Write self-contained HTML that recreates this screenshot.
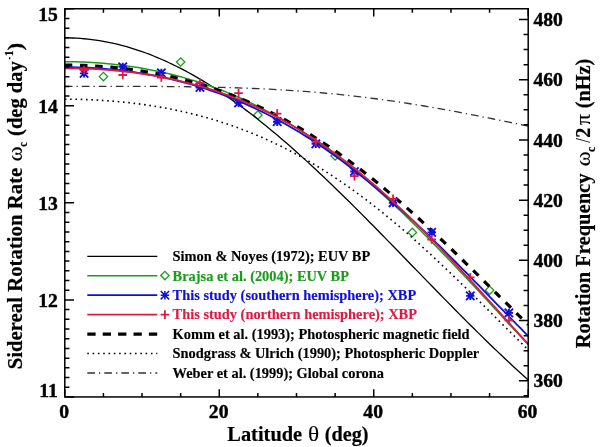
<!DOCTYPE html>
<html><head><meta charset="utf-8"><style>
html,body{margin:0;padding:0;background:#fff;width:600px;height:447px;overflow:hidden}
svg{display:block;will-change:transform}
</style></head><body>
<svg width="600" height="447" viewBox="0 0 600 447">
<clipPath id="c"><rect x="64.8" y="8.75" width="463.40000000000003" height="388.2"/></clipPath>
<g clip-path="url(#c)"><path d="M99.22,76.60 L103.42,72.40 L107.62,76.60 L103.42,80.80 Z" stroke="#1c9c1c" stroke-width="1.3" fill="none"/><path d="M176.45,62.00 L180.65,57.80 L184.85,62.00 L180.65,66.20 Z" stroke="#1c9c1c" stroke-width="1.3" fill="none"/><path d="M253.68,115.00 L257.88,110.80 L262.08,115.00 L257.88,119.20 Z" stroke="#1c9c1c" stroke-width="1.3" fill="none"/><path d="M330.92,156.00 L335.12,151.80 L339.32,156.00 L335.12,160.20 Z" stroke="#1c9c1c" stroke-width="1.3" fill="none"/><path d="M408.15,232.40 L412.35,228.20 L416.55,232.40 L412.35,236.60 Z" stroke="#1c9c1c" stroke-width="1.3" fill="none"/><path d="M485.38,290.30 L489.58,286.10 L493.78,290.30 L489.58,294.50 Z" stroke="#1c9c1c" stroke-width="1.3" fill="none"/><path d="M64.80,86.29 L68.66,86.29 L72.52,86.29 L76.38,86.29 L80.25,86.29 L84.11,86.29 L87.97,86.30 L91.83,86.30 L95.69,86.30 L99.56,86.30 L103.42,86.30 L107.28,86.31 L111.14,86.31 L115.00,86.31 L118.86,86.32 L122.72,86.32 L126.59,86.33 L130.45,86.34 L134.31,86.35 L138.17,86.36 L142.03,86.38 L145.90,86.39 L149.76,86.41 L153.62,86.43 L157.48,86.45 L161.34,86.48 L165.20,86.51 L169.06,86.54 L172.93,86.57 L176.79,86.61 L180.65,86.65 L184.51,86.70 L188.37,86.75 L192.24,86.80 L196.10,86.86 L199.96,86.93 L203.82,86.99 L207.68,87.07 L211.54,87.15 L215.41,87.24 L219.27,87.33 L223.13,87.43 L226.99,87.53 L230.85,87.64 L234.71,87.76 L238.57,87.89 L242.44,88.03 L246.30,88.17 L250.16,88.32 L254.02,88.48 L257.88,88.64 L261.75,88.82 L265.61,89.00 L269.47,89.20 L273.33,89.40 L277.19,89.61 L281.05,89.84 L284.92,90.07 L288.78,90.31 L292.64,90.57 L296.50,90.83 L300.36,91.10 L304.22,91.39 L308.08,91.69 L311.95,91.99 L315.81,92.31 L319.67,92.64 L323.53,92.98 L327.39,93.34 L331.26,93.70 L335.12,94.08 L338.98,94.47 L342.84,94.87 L346.70,95.28 L350.56,95.71 L354.43,96.14 L358.29,96.59 L362.15,97.05 L366.01,97.52 L369.87,98.01 L373.73,98.50 L377.60,99.01 L381.46,99.53 L385.32,100.06 L389.18,100.60 L393.04,101.16 L396.90,101.73 L400.77,102.30 L404.63,102.89 L408.49,103.49 L412.35,104.10 L416.21,104.72 L420.07,105.35 L423.94,106.00 L427.80,106.65 L431.66,107.31 L435.52,107.98 L439.38,108.66 L443.24,109.35 L447.11,110.05 L450.97,110.75 L454.83,111.47 L458.69,112.19 L462.55,112.92 L466.41,113.66 L470.28,114.40 L474.14,115.15 L478.00,115.91 L481.86,116.67 L485.72,117.44 L489.58,118.21 L493.45,118.99 L497.31,119.77 L501.17,120.55 L505.03,121.34 L508.89,122.13 L512.75,122.92 L516.62,123.72 L520.48,124.51 L524.34,125.31 L528.20,126.11" stroke="#333" stroke-width="1.3" fill="none" stroke-dasharray="7.7 4 1.3 4"/><path d="M64.80,99.20 L68.66,99.21 L72.52,99.25 L76.38,99.31 L80.25,99.40 L84.11,99.51 L87.97,99.65 L91.83,99.81 L95.69,100.00 L99.56,100.22 L103.42,100.46 L107.28,100.72 L111.14,101.02 L115.00,101.33 L118.86,101.68 L122.72,102.05 L126.59,102.46 L130.45,102.88 L134.31,103.34 L138.17,103.83 L142.03,104.34 L145.90,104.89 L149.76,105.46 L153.62,106.06 L157.48,106.70 L161.34,107.37 L165.20,108.06 L169.06,108.79 L172.93,109.56 L176.79,110.35 L180.65,111.18 L184.51,112.05 L188.37,112.95 L192.24,113.88 L196.10,114.85 L199.96,115.86 L203.82,116.90 L207.68,117.98 L211.54,119.10 L215.41,120.26 L219.27,121.45 L223.13,122.69 L226.99,123.97 L230.85,125.28 L234.71,126.64 L238.57,128.04 L242.44,129.48 L246.30,130.97 L250.16,132.50 L254.02,134.07 L257.88,135.68 L261.75,137.34 L265.61,139.05 L269.47,140.79 L273.33,142.59 L277.19,144.43 L281.05,146.32 L284.92,148.25 L288.78,150.23 L292.64,152.25 L296.50,154.32 L300.36,156.44 L304.22,158.61 L308.08,160.83 L311.95,163.09 L315.81,165.40 L319.67,167.75 L323.53,170.16 L327.39,172.61 L331.26,175.11 L335.12,177.65 L338.98,180.25 L342.84,182.89 L346.70,185.57 L350.56,188.30 L354.43,191.08 L358.29,193.90 L362.15,196.77 L366.01,199.69 L369.87,202.64 L373.73,205.64 L377.60,208.69 L381.46,211.77 L385.32,214.90 L389.18,218.07 L393.04,221.27 L396.90,224.52 L400.77,227.81 L404.63,231.13 L408.49,234.49 L412.35,237.89 L416.21,241.32 L420.07,244.78 L423.94,248.28 L427.80,251.80 L431.66,255.36 L435.52,258.95 L439.38,262.56 L443.24,266.20 L447.11,269.87 L450.97,273.56 L454.83,277.27 L458.69,281.00 L462.55,284.75 L466.41,288.52 L470.28,292.31 L474.14,296.11 L478.00,299.92 L481.86,303.75 L485.72,307.58 L489.58,311.42 L493.45,315.27 L497.31,319.12 L501.17,322.98 L505.03,326.83 L508.89,330.69 L512.75,334.54 L516.62,338.39 L520.48,342.23 L524.34,346.06 L528.20,349.88" stroke="#000" stroke-width="1.6" fill="none" stroke-dasharray="1.6 3.7"/><path d="M64.80,37.87 L68.66,37.90 L72.52,38.00 L76.38,38.18 L80.25,38.42 L84.11,38.73 L87.97,39.11 L91.83,39.56 L95.69,40.08 L99.56,40.67 L103.42,41.33 L107.28,42.06 L111.14,42.85 L115.00,43.71 L118.86,44.64 L122.72,45.64 L126.59,46.70 L130.45,47.83 L134.31,49.03 L138.17,50.29 L142.03,51.62 L145.90,53.01 L149.76,54.47 L153.62,56.00 L157.48,57.58 L161.34,59.23 L165.20,60.95 L169.06,62.72 L172.93,64.56 L176.79,66.46 L180.65,68.42 L184.51,70.44 L188.37,72.52 L192.24,74.66 L196.10,76.86 L199.96,79.11 L203.82,81.42 L207.68,83.79 L211.54,86.21 L215.41,88.69 L219.27,91.22 L223.13,93.81 L226.99,96.45 L230.85,99.13 L234.71,101.87 L238.57,104.66 L242.44,107.50 L246.30,110.39 L250.16,113.33 L254.02,116.31 L257.88,119.33 L261.75,122.40 L265.61,125.52 L269.47,128.68 L273.33,131.88 L277.19,135.12 L281.05,138.40 L284.92,141.72 L288.78,145.08 L292.64,148.47 L296.50,151.90 L300.36,155.36 L304.22,158.86 L308.08,162.39 L311.95,165.95 L315.81,169.55 L319.67,173.17 L323.53,176.82 L327.39,180.50 L331.26,184.20 L335.12,187.93 L338.98,191.68 L342.84,195.46 L346.70,199.25 L350.56,203.07 L354.43,206.90 L358.29,210.76 L362.15,214.63 L366.01,218.51 L369.87,222.42 L373.73,226.33 L377.60,230.25 L381.46,234.19 L385.32,238.14 L389.18,242.09 L393.04,246.06 L396.90,250.02 L400.77,254.00 L404.63,257.97 L408.49,261.95 L412.35,265.93 L416.21,269.91 L420.07,273.89 L423.94,277.87 L427.80,281.84 L431.66,285.81 L435.52,289.77 L439.38,293.73 L443.24,297.67 L447.11,301.61 L450.97,305.54 L454.83,309.45 L458.69,313.35 L462.55,317.24 L466.41,321.11 L470.28,324.96 L474.14,328.80 L478.00,332.61 L481.86,336.41 L485.72,340.18 L489.58,343.94 L493.45,347.66 L497.31,351.37 L501.17,355.05 L505.03,358.70 L508.89,362.32 L512.75,365.91 L516.62,369.47 L520.48,373.00 L524.34,376.50 L528.20,379.97" stroke="#000" stroke-width="1.3" fill="none"/><path d="M64.80,61.71 L68.66,61.73 L72.52,61.77 L76.38,61.85 L80.25,61.97 L84.11,62.11 L87.97,62.29 L91.83,62.50 L95.69,62.74 L99.56,63.01 L103.42,63.32 L107.28,63.66 L111.14,64.03 L115.00,64.44 L118.86,64.88 L122.72,65.35 L126.59,65.86 L130.45,66.41 L134.31,66.98 L138.17,67.60 L142.03,68.25 L145.90,68.93 L149.76,69.65 L153.62,70.41 L157.48,71.21 L161.34,72.04 L165.20,72.91 L169.06,73.82 L172.93,74.77 L176.79,75.75 L180.65,76.78 L184.51,77.85 L188.37,78.96 L192.24,80.10 L196.10,81.29 L199.96,82.53 L203.82,83.80 L207.68,85.12 L211.54,86.48 L215.41,87.88 L219.27,89.33 L223.13,90.82 L226.99,92.36 L230.85,93.95 L234.71,95.57 L238.57,97.25 L242.44,98.97 L246.30,100.74 L250.16,102.56 L254.02,104.42 L257.88,106.34 L261.75,108.30 L265.61,110.31 L269.47,112.36 L273.33,114.47 L277.19,116.63 L281.05,118.83 L284.92,121.09 L288.78,123.39 L292.64,125.75 L296.50,128.15 L300.36,130.61 L304.22,133.11 L308.08,135.66 L311.95,138.27 L315.81,140.92 L319.67,143.63 L323.53,146.38 L327.39,149.18 L331.26,152.04 L335.12,154.94 L338.98,157.88 L342.84,160.88 L346.70,163.93 L350.56,167.02 L354.43,170.16 L358.29,173.35 L362.15,176.58 L366.01,179.86 L369.87,183.18 L373.73,186.54 L377.60,189.95 L381.46,193.41 L385.32,196.90 L389.18,200.43 L393.04,204.01 L396.90,207.62 L400.77,211.28 L404.63,214.97 L408.49,218.69 L412.35,222.45 L416.21,226.25 L420.07,230.07 L423.94,233.93 L427.80,237.82 L431.66,241.74 L435.52,245.69 L439.38,249.66 L443.24,253.66 L447.11,257.68 L450.97,261.72 L454.83,265.78 L458.69,269.86 L462.55,273.96 L466.41,278.08 L470.28,282.21 L474.14,286.35 L478.00,290.50 L481.86,294.66 L485.72,298.83 L489.58,303.00 L493.45,307.18 L497.31,311.36 L501.17,315.54 L505.03,319.71 L508.89,323.88 L512.75,328.05 L516.62,332.21 L520.48,336.35 L524.34,340.49 L528.20,344.61" stroke="#1c9c1c" stroke-width="1.5" fill="none"/><path d="M64.80,65.04 L68.66,65.05 L72.52,65.10 L76.38,65.17 L80.25,65.28 L84.11,65.41 L87.97,65.57 L91.83,65.77 L95.69,65.99 L99.56,66.24 L103.42,66.53 L107.28,66.84 L111.14,67.18 L115.00,67.56 L118.86,67.97 L122.72,68.40 L126.59,68.87 L130.45,69.38 L134.31,69.91 L138.17,70.48 L142.03,71.08 L145.90,71.71 L149.76,72.37 L153.62,73.07 L157.48,73.81 L161.34,74.58 L165.20,75.38 L169.06,76.22 L172.93,77.09 L176.79,78.00 L180.65,78.95 L184.51,79.94 L188.37,80.96 L192.24,82.02 L196.10,83.11 L199.96,84.25 L203.82,85.42 L207.68,86.64 L211.54,87.89 L215.41,89.19 L219.27,90.52 L223.13,91.90 L226.99,93.31 L230.85,94.77 L234.71,96.27 L238.57,97.81 L242.44,99.40 L246.30,101.03 L250.16,102.70 L254.02,104.42 L257.88,106.18 L261.75,107.98 L265.61,109.83 L269.47,111.72 L273.33,113.66 L277.19,115.64 L281.05,117.67 L284.92,119.75 L288.78,121.87 L292.64,124.03 L296.50,126.24 L300.36,128.50 L304.22,130.80 L308.08,133.15 L311.95,135.54 L315.81,137.98 L319.67,140.46 L323.53,142.99 L327.39,145.57 L331.26,148.19 L335.12,150.85 L338.98,153.56 L342.84,156.31 L346.70,159.11 L350.56,161.95 L354.43,164.83 L358.29,167.75 L362.15,170.72 L366.01,173.73 L369.87,176.77 L373.73,179.86 L377.60,182.99 L381.46,186.16 L385.32,189.36 L389.18,192.61 L393.04,195.89 L396.90,199.20 L400.77,202.55 L404.63,205.93 L408.49,209.35 L412.35,212.80 L416.21,216.28 L420.07,219.79 L423.94,223.32 L427.80,226.89 L431.66,230.48 L435.52,234.10 L439.38,237.74 L443.24,241.40 L447.11,245.09 L450.97,248.79 L454.83,252.51 L458.69,256.25 L462.55,260.01 L466.41,263.78 L470.28,267.56 L474.14,271.36 L478.00,275.16 L481.86,278.97 L485.72,282.79 L489.58,286.61 L493.45,290.43 L497.31,294.26 L501.17,298.09 L505.03,301.91 L508.89,305.73 L512.75,309.54 L516.62,313.35 L520.48,317.15 L524.34,320.94 L528.20,324.71" stroke="#000" stroke-width="3.2" fill="none" stroke-dasharray="7.5 7.7"/><path d="M64.80,67.17 L68.66,67.19 L72.52,67.24 L76.38,67.31 L80.25,67.42 L84.11,67.56 L87.97,67.72 L91.83,67.92 L95.69,68.15 L99.56,68.42 L103.42,68.71 L107.28,69.03 L111.14,69.39 L115.00,69.78 L118.86,70.20 L122.72,70.65 L126.59,71.14 L130.45,71.66 L134.31,72.21 L138.17,72.79 L142.03,73.41 L145.90,74.07 L149.76,74.75 L153.62,75.48 L157.48,76.24 L161.34,77.03 L165.20,77.86 L169.06,78.73 L172.93,79.63 L176.79,80.57 L180.65,81.55 L184.51,82.57 L188.37,83.62 L192.24,84.72 L196.10,85.85 L199.96,87.03 L203.82,88.24 L207.68,89.50 L211.54,90.79 L215.41,92.13 L219.27,93.51 L223.13,94.93 L226.99,96.40 L230.85,97.91 L234.71,99.46 L238.57,101.06 L242.44,102.70 L246.30,104.38 L250.16,106.11 L254.02,107.89 L257.88,109.71 L261.75,111.57 L265.61,113.49 L269.47,115.44 L273.33,117.45 L277.19,119.50 L281.05,121.60 L284.92,123.75 L288.78,125.94 L292.64,128.18 L296.50,130.47 L300.36,132.80 L304.22,135.19 L308.08,137.62 L311.95,140.09 L315.81,142.62 L319.67,145.19 L323.53,147.81 L327.39,150.47 L331.26,153.18 L335.12,155.94 L338.98,158.75 L342.84,161.60 L346.70,164.49 L350.56,167.43 L354.43,170.42 L358.29,173.44 L362.15,176.52 L366.01,179.63 L369.87,182.79 L373.73,185.99 L377.60,189.23 L381.46,192.51 L385.32,195.83 L389.18,199.19 L393.04,202.58 L396.90,206.01 L400.77,209.48 L404.63,212.99 L408.49,216.53 L412.35,220.10 L416.21,223.70 L420.07,227.34 L423.94,231.01 L427.80,234.70 L431.66,238.42 L435.52,242.17 L439.38,245.94 L443.24,249.73 L447.11,253.55 L450.97,257.39 L454.83,261.25 L458.69,265.12 L462.55,269.02 L466.41,272.92 L470.28,276.84 L474.14,280.77 L478.00,284.72 L481.86,288.66 L485.72,292.62 L489.58,296.58 L493.45,300.55 L497.31,304.51 L501.17,308.48 L505.03,312.44 L508.89,316.40 L512.75,320.35 L516.62,324.30 L520.48,328.23 L524.34,332.16 L528.20,336.07" stroke="#1010d8" stroke-width="1.8" fill="none"/><path d="M79.91,73.40 H88.31 M84.11,69.20 V77.60 M79.91,69.20 L88.31,77.60 M88.31,69.20 L79.91,77.60" stroke="#1010d8" stroke-width="1.9" fill="none"/><path d="M118.52,66.90 H126.92 M122.72,62.70 V71.10 M118.52,62.70 L126.92,71.10 M126.92,62.70 L118.52,71.10" stroke="#1010d8" stroke-width="1.9" fill="none"/><path d="M157.14,72.90 H165.54 M161.34,68.70 V77.10 M157.14,68.70 L165.54,77.10 M165.54,68.70 L157.14,77.10" stroke="#1010d8" stroke-width="1.9" fill="none"/><path d="M195.76,87.50 H204.16 M199.96,83.30 V91.70 M195.76,83.30 L204.16,91.70 M204.16,83.30 L195.76,91.70" stroke="#1010d8" stroke-width="1.9" fill="none"/><path d="M234.38,102.90 H242.77 M238.57,98.70 V107.10 M234.38,98.70 L242.77,107.10 M242.77,98.70 L234.38,107.10" stroke="#1010d8" stroke-width="1.9" fill="none"/><path d="M272.99,121.70 H281.39 M277.19,117.50 V125.90 M272.99,117.50 L281.39,125.90 M281.39,117.50 L272.99,125.90" stroke="#1010d8" stroke-width="1.9" fill="none"/><path d="M311.61,143.90 H320.01 M315.81,139.70 V148.10 M311.61,139.70 L320.01,148.10 M320.01,139.70 L311.61,148.10" stroke="#1010d8" stroke-width="1.9" fill="none"/><path d="M350.23,171.50 H358.62 M354.43,167.30 V175.70 M350.23,167.30 L358.62,175.70 M358.62,167.30 L350.23,175.70" stroke="#1010d8" stroke-width="1.9" fill="none"/><path d="M388.84,202.80 H397.24 M393.04,198.60 V207.00 M388.84,198.60 L397.24,207.00 M397.24,198.60 L388.84,207.00" stroke="#1010d8" stroke-width="1.9" fill="none"/><path d="M427.46,232.40 H435.86 M431.66,228.20 V236.60 M427.46,228.20 L435.86,236.60 M435.86,228.20 L427.46,236.60" stroke="#1010d8" stroke-width="1.9" fill="none"/><path d="M466.08,295.90 H474.48 M470.28,291.70 V300.10 M466.08,291.70 L474.48,300.10 M474.48,291.70 L466.08,300.10" stroke="#1010d8" stroke-width="1.9" fill="none"/><path d="M504.69,312.90 H513.09 M508.89,308.70 V317.10 M504.69,308.70 L513.09,317.10 M513.09,308.70 L504.69,317.10" stroke="#1010d8" stroke-width="1.9" fill="none"/><path d="M64.80,68.27 L68.66,68.28 L72.52,68.32 L76.38,68.39 L80.25,68.48 L84.11,68.60 L87.97,68.75 L91.83,68.93 L95.69,69.13 L99.56,69.36 L103.42,69.61 L107.28,69.90 L111.14,70.21 L115.00,70.55 L118.86,70.92 L122.72,71.32 L126.59,71.75 L130.45,72.21 L134.31,72.70 L138.17,73.22 L142.03,73.77 L145.90,74.36 L149.76,74.97 L153.62,75.62 L157.48,76.30 L161.34,77.02 L165.20,77.77 L169.06,78.56 L172.93,79.38 L176.79,80.23 L180.65,81.13 L184.51,82.06 L188.37,83.03 L192.24,84.04 L196.10,85.09 L199.96,86.17 L203.82,87.30 L207.68,88.47 L211.54,89.68 L215.41,90.93 L219.27,92.23 L223.13,93.57 L226.99,94.95 L230.85,96.38 L234.71,97.85 L238.57,99.38 L242.44,100.94 L246.30,102.56 L250.16,104.22 L254.02,105.93 L257.88,107.68 L261.75,109.49 L265.61,111.35 L269.47,113.25 L273.33,115.21 L277.19,117.22 L281.05,119.28 L284.92,121.39 L288.78,123.55 L292.64,125.77 L296.50,128.03 L300.36,130.35 L304.22,132.72 L308.08,135.15 L311.95,137.63 L315.81,140.16 L319.67,142.74 L323.53,145.38 L327.39,148.07 L331.26,150.81 L335.12,153.60 L338.98,156.45 L342.84,159.35 L346.70,162.30 L350.56,165.31 L354.43,168.36 L358.29,171.47 L362.15,174.62 L366.01,177.83 L369.87,181.09 L373.73,184.39 L377.60,187.75 L381.46,191.15 L385.32,194.59 L389.18,198.09 L393.04,201.63 L396.90,205.21 L400.77,208.84 L404.63,212.51 L408.49,216.22 L412.35,219.97 L416.21,223.76 L420.07,227.59 L423.94,231.45 L427.80,235.35 L431.66,239.29 L435.52,243.25 L439.38,247.25 L443.24,251.28 L447.11,255.34 L450.97,259.42 L454.83,263.53 L458.69,267.67 L462.55,271.82 L466.41,276.00 L470.28,280.19 L474.14,284.41 L478.00,288.63 L481.86,292.87 L485.72,297.12 L489.58,301.39 L493.45,305.65 L497.31,309.93 L501.17,314.21 L505.03,318.48 L508.89,322.76 L512.75,327.04 L516.62,331.31 L520.48,335.58 L524.34,339.83 L528.20,344.08" stroke="#dc1a46" stroke-width="1.8" fill="none"/><path d="M79.81,70.00 H88.41 M84.11,65.70 V74.30" stroke="#dc1a46" stroke-width="1.8" fill="none"/><path d="M118.42,75.00 H127.02 M122.72,70.70 V79.30" stroke="#dc1a46" stroke-width="1.8" fill="none"/><path d="M157.04,77.50 H165.64 M161.34,73.20 V81.80" stroke="#dc1a46" stroke-width="1.8" fill="none"/><path d="M195.66,83.00 H204.26 M199.96,78.70 V87.30" stroke="#dc1a46" stroke-width="1.8" fill="none"/><path d="M234.27,93.10 H242.88 M238.57,88.80 V97.40" stroke="#dc1a46" stroke-width="1.8" fill="none"/><path d="M272.89,113.60 H281.49 M277.19,109.30 V117.90" stroke="#dc1a46" stroke-width="1.8" fill="none"/><path d="M311.51,141.80 H320.11 M315.81,137.50 V146.10" stroke="#dc1a46" stroke-width="1.8" fill="none"/><path d="M350.12,176.20 H358.73 M354.43,171.90 V180.50" stroke="#dc1a46" stroke-width="1.8" fill="none"/><path d="M388.74,198.80 H397.34 M393.04,194.50 V203.10" stroke="#dc1a46" stroke-width="1.8" fill="none"/><path d="M427.36,239.50 H435.96 M431.66,235.20 V243.80" stroke="#dc1a46" stroke-width="1.8" fill="none"/><path d="M465.98,277.30 H474.58 M470.28,273.00 V281.60" stroke="#dc1a46" stroke-width="1.8" fill="none"/><path d="M504.59,320.30 H513.19 M508.89,316.00 V324.60" stroke="#dc1a46" stroke-width="1.8" fill="none"/></g>
<rect x="64.8" y="8.75" width="463.40000000000003" height="388.2" fill="none" stroke="#000" stroke-width="1.5"/><path d="M64.80,396.95 h9.27 M64.80,387.25 h4.63 M64.80,377.54 h4.63 M64.80,367.83 h4.63 M64.80,358.13 h4.63 M64.80,348.43 h4.63 M64.80,338.72 h4.63 M64.80,329.02 h4.63 M64.80,319.31 h4.63 M64.80,309.60 h4.63 M64.80,299.90 h9.27 M64.80,290.20 h4.63 M64.80,280.49 h4.63 M64.80,270.78 h4.63 M64.80,261.08 h4.63 M64.80,251.38 h4.63 M64.80,241.67 h4.63 M64.80,231.97 h4.63 M64.80,222.26 h4.63 M64.80,212.55 h4.63 M64.80,202.85 h9.27 M64.80,193.15 h4.63 M64.80,183.44 h4.63 M64.80,173.73 h4.63 M64.80,164.03 h4.63 M64.80,154.32 h4.63 M64.80,144.62 h4.63 M64.80,134.92 h4.63 M64.80,125.21 h4.63 M64.80,115.50 h4.63 M64.80,105.80 h9.27 M64.80,96.10 h4.63 M64.80,86.39 h4.63 M64.80,76.68 h4.63 M64.80,66.98 h4.63 M64.80,57.27 h4.63 M64.80,47.57 h4.63 M64.80,37.87 h4.63 M64.80,28.16 h4.63 M64.80,18.45 h4.63 M64.80,8.75 h9.27 M528.20,395.86 h-4.63 M528.20,380.80 h-9.27 M528.20,365.75 h-4.63 M528.20,350.69 h-4.63 M528.20,335.63 h-4.63 M528.20,320.58 h-9.27 M528.20,305.52 h-4.63 M528.20,290.47 h-4.63 M528.20,275.42 h-4.63 M528.20,260.36 h-9.27 M528.20,245.31 h-4.63 M528.20,230.25 h-4.63 M528.20,215.19 h-4.63 M528.20,200.14 h-9.27 M528.20,185.09 h-4.63 M528.20,170.03 h-4.63 M528.20,154.97 h-4.63 M528.20,139.92 h-9.27 M528.20,124.87 h-4.63 M528.20,109.81 h-4.63 M528.20,94.75 h-4.63 M528.20,79.70 h-9.27 M528.20,64.64 h-4.63 M528.20,49.59 h-4.63 M528.20,34.54 h-4.63 M528.20,19.48 h-9.27 M64.80,396.95 v-7.76 M64.80,8.75 v7.76 M103.42,396.95 v-3.88 M103.42,8.75 v3.88 M142.03,396.95 v-3.88 M142.03,8.75 v3.88 M180.65,396.95 v-3.88 M180.65,8.75 v3.88 M219.27,396.95 v-7.76 M219.27,8.75 v7.76 M257.88,396.95 v-3.88 M257.88,8.75 v3.88 M296.50,396.95 v-3.88 M296.50,8.75 v3.88 M335.12,396.95 v-3.88 M335.12,8.75 v3.88 M373.73,396.95 v-7.76 M373.73,8.75 v7.76 M412.35,396.95 v-3.88 M412.35,8.75 v3.88 M450.97,396.95 v-3.88 M450.97,8.75 v3.88 M489.58,396.95 v-3.88 M489.58,8.75 v3.88 M528.20,396.95 v-7.76 M528.20,8.75 v7.76" stroke="#000" stroke-width="1.5" fill="none"/>
<path d="M87.3,256.3 H157.3" stroke="#000" stroke-width="1.3"/><path d="M87.3,275.75 H157.3" stroke="#1c9c1c" stroke-width="1.5"/><path d="M160.70,275.55 L164.90,271.35 L169.10,275.55 L164.90,279.75 Z" stroke="#1c9c1c" stroke-width="1.3" fill="none"/><path d="M87.3,295.2 H157.3" stroke="#1010d8" stroke-width="1.8"/><path d="M160.70,295.20 H169.10 M164.90,291.00 V299.40 M160.70,291.00 L169.10,299.40 M169.10,291.00 L160.70,299.40" stroke="#1010d8" stroke-width="1.5" fill="none"/><path d="M87.3,314.65 H157.3" stroke="#dc1a46" stroke-width="1.8"/><path d="M160.60,314.65 H169.20 M164.90,310.35 V318.95" stroke="#dc1a46" stroke-width="1.8" fill="none"/><path d="M87.3,334.1 H157.3" stroke="#000" stroke-width="3.2" stroke-dasharray="8.3 7.1"/><path d="M87.3,353.55 H157.3" stroke="#000" stroke-width="1.6" stroke-dasharray="1.6 3.7"/><path d="M87.3,373.0 H157.3" stroke="#333" stroke-width="1.3" stroke-dasharray="7.7 4 1.3 4"/>
<g font-family="Liberation Serif" font-weight="bold" stroke-width="0.45" stroke-linejoin="round"><text x="172.6" y="261.10" font-size="14.4" fill="#000" stroke="#000" stroke-width="0.15">Simon &amp; Noyes (1972); EUV BP</text><text x="172.6" y="280.55" font-size="14.4" fill="#1c9c1c" stroke="#1c9c1c" stroke-width="0.15">Brajsa et al. (2004); EUV BP</text><text x="172.6" y="300.00" font-size="14.4" fill="#1010d8" stroke="#1010d8" stroke-width="0.15">This study (southern hemisphere); XBP</text><text x="172.6" y="319.45" font-size="14.4" fill="#dc1a46" stroke="#dc1a46" stroke-width="0.15">This study (northern hemisphere); XBP</text><text x="172.6" y="338.90" font-size="14.4" fill="#000" stroke="#000" stroke-width="0.15">Komm et al. (1993); Photospheric magnetic field</text><text x="172.6" y="358.35" font-size="14.4" fill="#000" stroke="#000" stroke-width="0.15">Snodgrass &amp; Ulrich (1990); Photospheric Doppler</text><text x="172.6" y="377.80" font-size="14.4" fill="#000" stroke="#000" stroke-width="0.15">Weber et al. (1999); Global corona</text><text x="57.8" y="20.80" font-size="19.6" text-anchor="end" stroke="#000">15</text><text x="57.8" y="112.80" font-size="19.6" text-anchor="end" stroke="#000">14</text><text x="57.8" y="209.80" font-size="19.6" text-anchor="end" stroke="#000">13</text><text x="57.8" y="306.50" font-size="19.6" text-anchor="end" stroke="#000">12</text><text x="57.8" y="397.10" font-size="19.6" text-anchor="end" stroke="#000">11</text><text x="533.5" y="387.40" font-size="19.6" stroke="#000">360</text><text x="533.5" y="327.18" font-size="19.6" stroke="#000">380</text><text x="533.5" y="266.96" font-size="19.6" stroke="#000">400</text><text x="533.5" y="206.74" font-size="19.6" stroke="#000">420</text><text x="533.5" y="146.52" font-size="19.6" stroke="#000">440</text><text x="533.5" y="86.30" font-size="19.6" stroke="#000">460</text><text x="533.5" y="26.08" font-size="19.6" stroke="#000">480</text><text x="64.20" y="418.3" font-size="19.6" text-anchor="middle" stroke="#000">0</text><text x="218.67" y="418.3" font-size="19.6" text-anchor="middle" stroke="#000">20</text><text x="373.13" y="418.3" font-size="19.6" text-anchor="middle" stroke="#000">40</text><text x="527.60" y="418.3" font-size="19.6" text-anchor="middle" stroke="#000">60</text></g>
<g font-family="Liberation Serif" stroke="#000" stroke-width="0.2" transform="translate(0,440.6)"><text transform="translate(227.30,0.00) scale(0.9912,1)" font-weight="bold" font-size="20.6">Latitude</text><text transform="translate(307.96,0.00) scale(1.1337,1)" font-weight="normal" font-size="20.6" stroke-width="0.1">θ</text><text transform="translate(324.66,0.00) scale(0.9834,1)" font-weight="bold" font-size="20.6">(deg)</text></g>
<g font-family="Liberation Serif" stroke="#000" stroke-width="0.2" transform="translate(21.6,368.6) rotate(-90)"><text transform="translate(-0.76,0.00) scale(1.0095,1)" font-weight="bold" font-size="20.6">Sidereal Rotation Rate</text><text transform="translate(207.32,0.00) scale(1.0921,1)" font-weight="normal" font-size="20.6" stroke-width="0.1">ω</text><text transform="translate(221.89,4.90) scale(0.8663,1)" font-weight="bold" font-size="12">c</text><text transform="translate(232.65,0.00) scale(0.9978,1)" font-weight="bold" font-size="20.6">(deg day</text><text transform="translate(309.17,-9.00) scale(0.6159,1)" font-weight="bold" font-size="12.5">-</text><text transform="translate(312.68,-9.00) scale(0.8692,1)" font-weight="bold" font-size="12.5">1</text><text transform="translate(318.10,0.00) scale(1.1340,1)" font-weight="bold" font-size="20.6">)</text></g>
<g font-family="Liberation Serif" stroke="#000" stroke-width="0.2" transform="translate(590,348.3) rotate(-90)"><text transform="translate(-0.00,0.00) scale(0.9977,1)" font-weight="bold" font-size="20.6">Rotation Frequency</text><text transform="translate(182.07,0.00) scale(1.0963,1)" font-weight="normal" font-size="20.6" stroke-width="0.1">ω</text><text transform="translate(196.34,4.70) scale(0.9963,1)" font-weight="bold" font-size="12">c</text><text transform="translate(205.45,0.00) scale(0.8212,1)" font-weight="normal" font-size="20.6" stroke-width="0.1">/</text><text transform="translate(210.60,0.00) scale(0.9825,1)" font-weight="bold" font-size="20.6">2</text><text transform="translate(223.25,0.00) scale(1.0503,1)" font-weight="normal" font-size="20.6" stroke-width="0.1">π</text><text transform="translate(239.96,0.00) scale(0.9870,1)" font-weight="bold" font-size="20.6">(nHz)</text></g>
</svg>
</body></html>
